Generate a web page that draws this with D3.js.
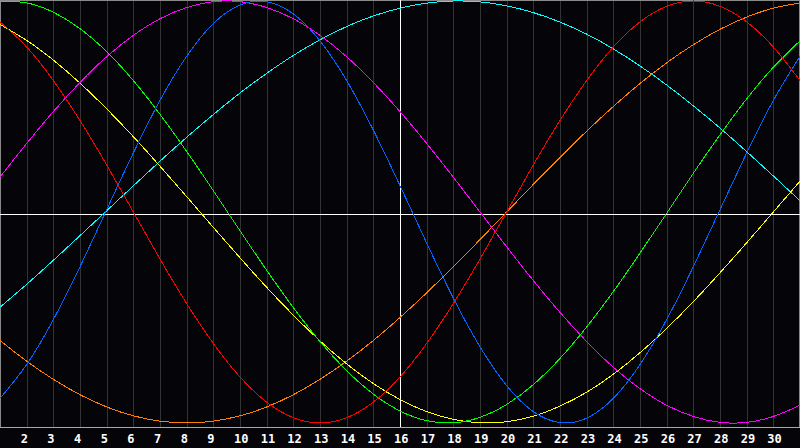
<!DOCTYPE html>
<html><head><meta charset="utf-8">
<script src="https://cdn.jsdelivr.net/npm/d3@7"></script>
<style>
html,body{margin:0;padding:0;background:#050409;}
svg{display:block;}
</style></head>
<body>
<svg id="c" width="800" height="448"></svg>
<script>
// Days shown (1..31), tick labels 2..30, today marker
const days = d3.range(1, 32);
const tickDays = d3.range(2, 31);
const todayDay = 16;

// Series values per day, -1..1
const red = [0.901,0.782,0.623,0.434,0.223,0,-0.223,-0.434,-0.623,-0.782,-0.901,-0.975,-1,-0.975,-0.901,-0.782,-0.623,-0.434,-0.223,0,0.223,0.434,0.623,0.782,0.901,0.975,1,0.975,0.901,0.782,0.623];
const blue = [-0.883,-0.723,-0.510,-0.259,0.011,0.280,0.529,0.738,0.893,0.981,0.997,0.939,0.811,0.623,0.388,0.125,-0.147,-0.408,-0.639,-0.823,-0.946,-0.998,-0.977,-0.883,-0.723,-0.510,-0.259,0.011,0.280,0.529,0.738];
const green = [0.999,0.991,0.947,0.869,0.760,0.623,0.463,0.287,0.101,-0.089,-0.276,-0.453,-0.614,-0.752,-0.863,-0.943,-0.989,-0.999,-0.973,-0.912,-0.818,-0.694,-0.545,-0.377,-0.195,-0.006,0.184,0.366,0.536,0.686,0.811];
const yellow = [0.889,0.813,0.720,0.611,0.489,0.357,0.217,0.073,-0.073,-0.217,-0.357,-0.489,-0.611,-0.720,-0.813,-0.889,-0.946,-0.983,-0.999,-0.994,-0.968,-0.920,-0.854,-0.769,-0.667,-0.552,-0.425,-0.288,-0.146,0,0.146];
const magenta = [0.165,0.325,0.476,0.614,0.736,0.837,0.916,0.969,0.997,0.997,0.969,0.916,0.837,0.736,0.614,0.476,0.325,0.165,0,-0.165,-0.325,-0.476,-0.614,-0.736,-0.837,-0.916,-0.969,-0.997,-0.997,-0.969,-0.916];
const cyan = [-0.451,-0.343,-0.229,-0.112,0.006,0.124,0.241,0.354,0.462,0.564,0.657,0.742,0.816,0.879,0.929,0.966,0.990,1.000,0.996,0.977,0.945,0.900,0.843,0.773,0.692,0.602,0.503,0.398,0.286,0.171,0.053];
const orange = [-0.609,-0.707,-0.793,-0.866,-0.924,-0.966,-0.991,-1,-0.991,-0.966,-0.924,-0.866,-0.793,-0.707,-0.609,-0.5,-0.383,-0.259,-0.131,0,0.131,0.259,0.383,0.5,0.609,0.707,0.793,0.866,0.924,0.966,0.991];

const seriesNames = ["cyan","orange","yellow","magenta","green","blue","red"];
const seriesValues = [cyan, orange, yellow, magenta, green, blue, red];
const seriesColors = ["#00ffff","#ff8000","#ffff00","#ff00ff","#00ff00","#0066ff","#ff0000"];

const W = 800, H = 448, plotH = 428;
const svg = d3.select("#c");
const x = d3.scaleLinear().domain([1, 31]).range([0, 800]);
const y = d3.scaleLinear().domain([-1, 1]).range([423, 1]);

svg.append("rect").attr("width", W).attr("height", H).attr("fill", "#050409");

// vertical grid
const g = svg.append("g").attr("shape-rendering", "crispEdges");
g.selectAll("line.grid").data(tickDays).join("line")
  .attr("class", "grid")
  .attr("x1", d => Math.round(x(d)) + 0.5).attr("x2", d => Math.round(x(d)) + 0.5)
  .attr("y1", 0).attr("y2", plotH)
  .attr("stroke", "#333333").attr("stroke-width", 1);

// frame
g.append("line").attr("x1", 0.5).attr("x2", 0.5).attr("y1", 0).attr("y2", plotH).attr("stroke", "#8a8a8a");
g.append("line").attr("x1", 799.5).attr("x2", 799.5).attr("y1", 0).attr("y2", plotH).attr("stroke", "#8a8a8a");
g.append("line").attr("x1", 0).attr("x2", 800).attr("y1", 0.5).attr("y2", 0.5).attr("stroke", "#8a8a8a");

// midline and today line
g.append("line").attr("x1", 0).attr("x2", 800).attr("y1", 214.5).attr("y2", 214.5).attr("stroke", "#ffffff");
g.append("line").attr("x1", Math.round(x(todayDay)) + 0.5).attr("x2", Math.round(x(todayDay)) + 0.5)
  .attr("y1", 0).attr("y2", plotH).attr("stroke", "#ffffff");

// curves
const line = d3.line().x((d, i) => x(days[i])).y(d => y(d)).curve(d3.curveNatural);
svg.append("g").selectAll("path").data(seriesValues).join("path")
  .attr("d", d => line(d))
  .attr("fill", "none")
  .attr("stroke", (d, i) => seriesColors[i])
  .attr("stroke-width", 1)
  .attr("shape-rendering", "crispEdges");

// bottom axis line
g.append("line").attr("x1", 0).attr("x2", 800).attr("y1", 427.5).attr("y2", 427.5).attr("stroke", "#a8a8a8");

// labels
svg.append("g").selectAll("text").data(tickDays).join("text")
  .attr("x", d => x(d) - 6)
  .attr("y", 443)
  .attr("fill", "#ffffff")
  .attr("font-family", "'DejaVu Sans Mono', monospace")
  .attr("font-weight", "bold")
  .attr("font-size", 12)
  .text(d => d);
</script>
</body></html>
